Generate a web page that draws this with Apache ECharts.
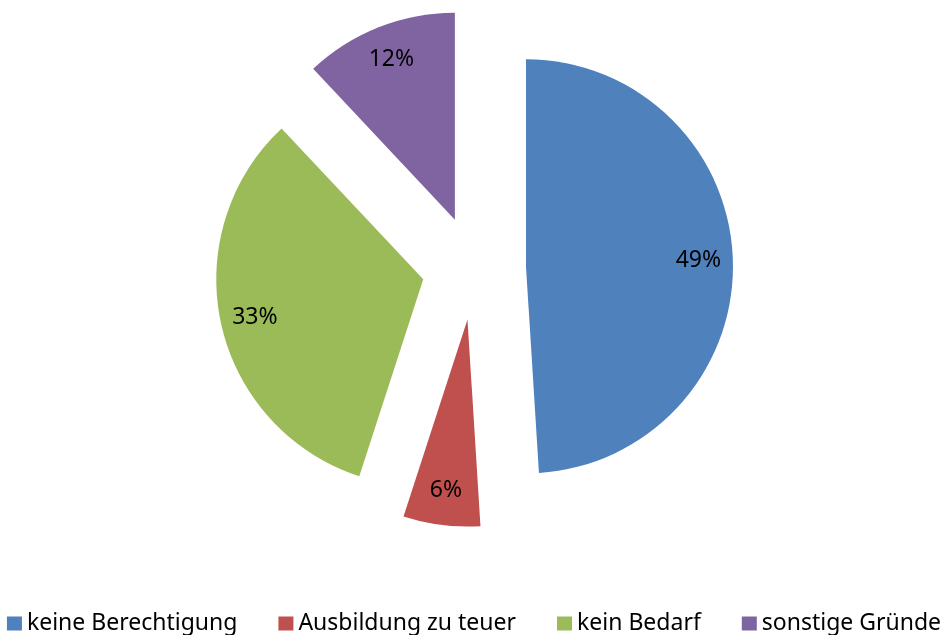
<!DOCTYPE html>
<html>
<head>
<meta charset="utf-8">
<script src="https://cdn.jsdelivr.net/npm/echarts@6/dist/echarts.min.js"></script>
<style>
  html, body { margin: 0; padding: 0; background: #fff; }
  #chart { width: 948px; height: 635px; }
</style>
</head>
<body>
<div id="chart"></div>
<script>
const categories = ['keine Berechtigung', 'Ausbildung zu teuer', 'kein Bedarf', 'sonstige Gründe'];
const shares = [49, 6, 33, 12];
const colors = ['#4F81BD', '#C0504D', '#9BBB59', '#8064A2'];

const FONT = '"Noto Sans", sans-serif';
const center = [474, 268];
const explode = 52;

const sliceData = categories.map((name, i) => ({
  name,
  value: shares[i],
  selected: true,
  itemStyle: { color: colors[i] }
}));

const labelData = categories.map((name, i) => ({
  name,
  value: shares[i],
  selected: true
}));

const chart = echarts.init(document.getElementById('chart'), null, { renderer: 'canvas' });
chart.setOption({
  animation: false,
  legend: {
    top: 612,
    left: 'center',
    icon: 'rect',
    itemWidth: 15,
    itemHeight: 14,
    itemGap: 41,
    itemTextGap: 6,
    padding: 0,
    textStyle: { fontFamily: FONT, fontSize: 23, color: '#000' },
    data: categories.map((name, i) => ({ name, itemStyle: { color: colors[i] } }))
  },
  series: [
    {
      type: 'pie',
      center,
      radius: 207,
      startAngle: 90,
      clockwise: true,
      selectedMode: 'multiple',
      selectedOffset: explode,
      label: { show: false },
      labelLine: { show: false },
      emphasis: { disabled: true },
      data: sliceData
    },
    {
      type: 'pie',
      center,
      radius: [132, 207],
      startAngle: 90,
      clockwise: true,
      selectedMode: 'multiple',
      selectedOffset: explode,
      silent: true,
      itemStyle: { color: 'rgba(0,0,0,0)' },
      label: {
        show: true,
        position: 'inside',
        formatter: '{c}%',
        fontFamily: FONT,
        fontSize: 23,
        color: '#000'
      },
      labelLine: { show: false },
      emphasis: { disabled: true },
      data: labelData
    }
  ]
});
</script>
</body>
</html>
